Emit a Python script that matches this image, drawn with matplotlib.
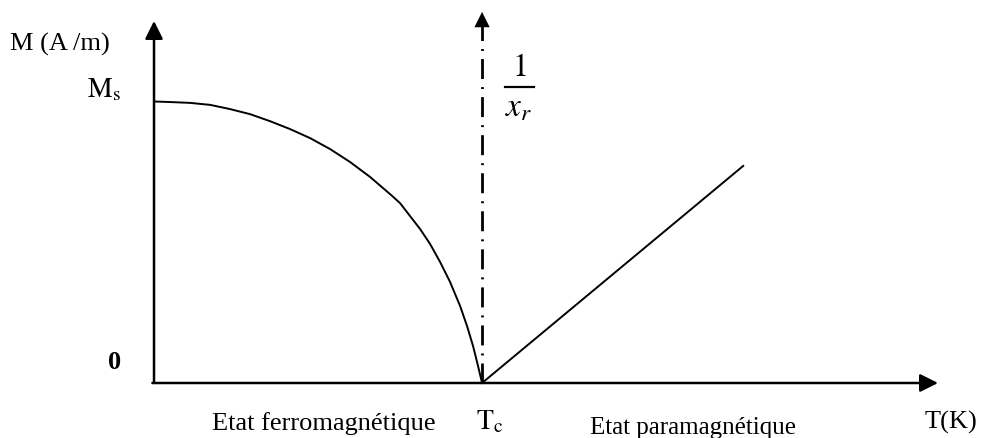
import matplotlib.pyplot as plt
import numpy as np

plt.rcParams['font.family'] = ['Liberation Serif', 'DejaVu Serif']
plt.rcParams['mathtext.fontset'] = 'stix'

# Ferromagnetic branch M(T), T and M in % of Tc and Ms
T_ferro = [0.0, 4.88, 10.98, 17.07, 23.17, 29.27, 35.37, 41.46, 47.56,
           53.66, 59.76, 65.85, 71.95, 75.0, 78.05, 81.1, 84.15, 87.2,
           90.24, 93.29, 95.43, 97.26, 98.78, 100.0]
M_ferro = [100.0, 99.8, 99.5, 98.8, 97.3, 95.5, 93.0, 90.2, 87.0,
           83.1, 78.5, 73.2, 67.1, 63.9, 59.3, 54.7, 49.4, 43.0,
           35.9, 27.4, 20.2, 13.1, 6.0, 0.0]

# Paramagnetic branch 1/chi (straight line from Tc)
T_para = [100.0, 179.6]
M_para = [0.0, 77.1]

Tc = 100.0
T_max = 239.0
M_max = 128.6
chi_max = 131.8

fig = plt.figure(figsize=(9.82, 4.39), dpi=100)
ax = fig.add_axes([0, 0, 1, 1])
ax.set_xlim(-46.95, 252.4)
ax.set_ylim(-19.54, 136.4)
ax.axis('off')

arrow = dict(arrowstyle='-|>', lw=1.8, color='black', mutation_scale=27,
             shrinkA=0, shrinkB=0)
ax.annotate('', xy=(0, M_max), xytext=(0, 0), arrowprops=arrow)
ax.annotate('', xy=(T_max, 0), xytext=(-0.5, 0), arrowprops=arrow)

# 1/chi axis at Tc
ax.plot([Tc, Tc], [0, chi_max - 5], color='black', lw=2.0,
        linestyle=(0, (7.2, 2.9, 0.7, 2.9)))
ax.annotate('', xy=(Tc, chi_max), xytext=(Tc, chi_max - 6),
            arrowprops=dict(arrowstyle='-|>', lw=0.1, color='black',
                            mutation_scale=27, shrinkA=0, shrinkB=0))

ax.plot(T_ferro, M_ferro, color='black', lw=1.4, solid_joinstyle='round')
ax.plot(T_para, M_para, color='black', lw=1.4)

fs = 19
ax.text(-44, 120.5, 'M (A /m)', fontsize=fs, va='center', ha='left')
ax.text(-10, 104.5, r'$\mathrm{M}_\mathrm{s}$', fontsize=fs + 1,
        va='center', ha='right')
ax.text(-10, 7.8, '0', fontsize=fs, fontweight='bold', va='center', ha='right')
ax.text(17.7, -13.9, 'Etat ferromagnétique', fontsize=fs, va='center', ha='left')
ax.text(98.3, -13.5, r'$\mathrm{T}_\mathrm{c}$', fontsize=fs + 1,
        va='center', ha='left')
ax.text(133, -15.5, 'Etat paramagnétique', fontsize=18, va='center', ha='left')
ax.text(235, -13.5, 'T(K)', fontsize=fs, va='center', ha='left')

# 1 / x_r written as a stacked fraction
ax.text(111.6, 109.3, '1', fontsize=23, family='STIXGeneral',
        va='baseline', ha='center')
ax.plot([107.0, 115.9], [105.2, 105.2], color='black', lw=1.6)
ax.text(111.3, 95.0, r'$x_r$', fontsize=24, va='baseline', ha='center')

fig.savefig('out.png', dpi=100)
